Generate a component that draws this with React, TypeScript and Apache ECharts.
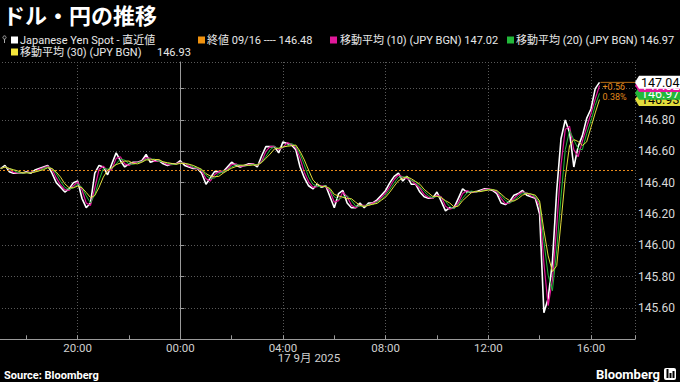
import React, { useEffect, useRef } from "react";
import * as echarts from "echarts";

// ---- data ----
const TITLE = "ドル・円の推移";
const START_MINUTE = -420; // 17:00 on 16 Sep (minutes from 00:00, 17 Sep)
const STEP_MINUTES = 10;
const PRICE = [
  146.49, 146.51, 146.47, 146.46, 146.46, 146.46, 146.47, 146.46, 146.48, 146.49,
  146.5, 146.51, 146.46, 146.4, 146.37, 146.34, 146.36, 146.4, 146.41, 146.3,
  146.24, 146.27, 146.46, 146.51, 146.5, 146.45, 146.52, 146.59, 146.54, 146.5,
  146.52, 146.53, 146.53, 146.54, 146.58, 146.53, 146.54, 146.54, 146.52, 146.51,
  146.52, 146.52, 146.54, 146.51, 146.5, 146.49, 146.49, 146.46, 146.39, 146.43,
  146.47, 146.47, 146.47, 146.5, 146.53, 146.51, 146.5, 146.51, 146.52, 146.52,
  146.5, 146.57, 146.63, 146.63, 146.63, 146.59, 146.66, 146.65, 146.64, 146.61,
  146.5, 146.43, 146.38, 146.36, 146.39, 146.37, 146.38, 146.31, 146.24, 146.33,
  146.35, 146.27, 146.24, 146.24, 146.27, 146.24, 146.27, 146.27, 146.29, 146.32,
  146.35, 146.4, 146.44, 146.46, 146.41, 146.44, 146.39, 146.39, 146.34, 146.31,
  146.3, 146.3, 146.34, 146.28, 146.22, 146.24, 146.24, 146.3, 146.36, 146.34,
  146.34, 146.34, 146.35, 146.36, 146.36, 146.35, 146.33, 146.27, 146.26, 146.28,
  146.32, 146.33, 146.35, 146.32, 146.31, 146.3, 146.2, 145.57, 145.66, 145.9,
  146.35, 146.68, 146.8, 146.72, 146.5, 146.63, 146.7, 146.81, 146.87, 147.0,
  147.04,
];
const PREV_CLOSE = 146.48;
const PREV_CLOSE_DATE = "09/16";
const MA_WINDOWS = [10, 20, 30]; // minutes
const MA_COLORS = ["#e0189a", "#22b83a", "#e2dc3c"];
const SERIES_NAME = "Japanese Yen Spot - 直近値";
const DATE_LABEL = "17 9月 2025";
const X_MIN = -480;
const X_MAX = 1063;
const X_INTERVAL = 240;
const Y_MIN = 145.4;
const Y_MAX = 147.17;
const Y_INTERVAL = 0.2;

const FONT = "Roboto, 'Noto Sans CJK JP', sans-serif";
const SHIFT = 25; // chart div starts 25px left of the page so that 16:00 sits off-screen

function movingAverage(values: number[], windowMinutes: number): number[] {
  const n = windowMinutes / STEP_MINUTES + 1;
  return values.map((_, i) => {
    const s = Math.max(0, i - n + 1);
    const part = values.slice(s, i + 1);
    return part.reduce((a, b) => a + b, 0) / part.length;
  });
}

function fmtTime(v: number): string {
  const m = ((v % 1440) + 1440) % 1440;
  const h = Math.floor(m / 60);
  const mm = Math.round(m % 60);
  return String(h).padStart(2, "0") + ":" + String(mm).padStart(2, "0");
}

export default function App() {
  const ref = useRef<HTMLDivElement>(null);
  useEffect(() => {
    if (!ref.current) return;
    const chart = echarts.init(ref.current, null, { renderer: "svg" });
    const xs = PRICE.map((_, i) => START_MINUTE + STEP_MINUTES * i);
    const mas = MA_WINDOWS.map((w) => movingAverage(PRICE, w));
    const toPairs = (arr: number[]) => arr.map((v, i) => [xs[i], v]);
    const last = PRICE[PRICE.length - 1];
    const lastMas = mas.map((m) => m[m.length - 1]);

    chart.setOption({
      animation: false,
      backgroundColor: "#000",
      grid: { left: 0, right: 45, top: 62, bottom: 42.7 },
      xAxis: {
        type: "value",
        min: X_MIN,
        max: X_MAX,
        interval: X_INTERVAL,
        axisLine: { show: true, lineStyle: { color: "#9a9a9a", width: 1 } },
        axisTick: { show: true, inside: true, length: 4, lineStyle: { color: "#9a9a9a" } },
        minorTick: { show: true, splitNumber: 2, length: 4, lineStyle: { color: "#9a9a9a" } },
        splitLine: { show: true, lineStyle: { color: "#5a5a5a", type: [1, 2], width: 1 } },
        axisLabel: {
          color: "#d0d0d0",
          fontSize: 11.5,
          fontFamily: FONT,
          margin: 3,
          showMinLabel: false,
          showMaxLabel: false,
          formatter: (v: number) => fmtTime(v),
        },
      },
      yAxis: {
        type: "value",
        position: "right",
        min: Y_MIN,
        max: Y_MAX,
        interval: Y_INTERVAL,
        axisLine: { show: true, lineStyle: { color: "#9a9a9a", width: 1 } },
        axisTick: { show: true, length: 4, lineStyle: { color: "#9a9a9a" } },
        splitLine: { show: true, lineStyle: { color: "#5a5a5a", type: [1, 2], width: 1 } },
        axisLabel: {
          color: "#d8d8d8",
          fontSize: 12,
          fontFamily: FONT,
          margin: 3,
          showMaxLabel: false,
          formatter: (v: number) => {
            const r = Math.round(v * 100) / 100;
            if (Math.abs(r - Y_MIN) < 1e-6 || r > 146.99) return "";
            return r.toFixed(2);
          },
        },
      },
      series: [
        {
          name: SERIES_NAME,
          type: "line",
          data: toPairs(PRICE),
          showSymbol: false,
          lineStyle: { color: "#ffffff", width: 1.6 },
          z: 2,
          markLine: {
            silent: true,
            symbol: "none",
            label: { show: false },
            lineStyle: { color: "#e8891a", type: [2, 2], width: 1 },
            data: [{ yAxis: PREV_CLOSE }],
          },
        },
        ...mas.map((m, k) => ({
          name: "MA" + MA_WINDOWS[k],
          type: "line",
          data: toPairs(m),
          showSymbol: false,
          lineStyle: { color: MA_COLORS[k], width: k === 0 ? 1.2 : 1 },
          z: 3 + k,
        })),
      ],
    });

    const graphics: any[] = [];
    const text = (x: number, y: number, t: string, opts: any = {}) =>
      graphics.push({
        type: "text",
        x,
        y,
        silent: true,
        z: 100,
        style: {
          text: t,
          fill: opts.fill || "#e8e8e8",
          fontSize: opts.fontSize || 11,
          fontFamily: FONT,
          fontWeight: opts.fontWeight || "normal",
          align: opts.align || "left",
          verticalAlign: "middle",
        },
      });
    const square = (x: number, y: number, color: string) =>
      graphics.push({ type: "rect", silent: true, z: 100, shape: { x, y: y - 3.5, width: 7, height: 7 }, style: { fill: color } });

    // title
    text(3, 16, TITLE, { fontSize: 22, fontWeight: "bold", fill: "#ffffff" });

    // legend row 1
    graphics.push({ type: "circle", silent: true, z: 100, shape: { cx: 4.5, cy: 37.5, r: 1.6 }, style: { stroke: "#aaa", fill: "none", lineWidth: 1 } });
    graphics.push({ type: "line", silent: true, z: 100, shape: { x1: 4.5, y1: 39, x2: 4.5, y2: 43 }, style: { stroke: "#aaa", lineWidth: 1 } });
    square(11, 40, "#ffffff");
    text(20, 40, SERIES_NAME);
    square(198, 40, "#f0920f");
    text(207, 40, "終値 " + PREV_CLOSE_DATE + " ---- " + PREV_CLOSE.toFixed(2));
    square(330, 40, MA_COLORS[0]);
    text(340, 40, "移動平均 (" + MA_WINDOWS[0] + ") (JPY BGN) " + lastMas[0].toFixed(2));
    square(507, 40, MA_COLORS[1]);
    text(516, 40, "移動平均 (" + MA_WINDOWS[1] + ") (JPY BGN) " + lastMas[1].toFixed(2));
    // legend row 2
    square(11, 52, "#f5e63c");
    text(20, 52, "移動平均 (" + MA_WINDOWS[2] + ") (JPY BGN)");
    text(157, 52, lastMas[2].toFixed(2));

    // date label & footer
    text(309, 358, DATE_LABEL, { align: "center", fontSize: 11.5, fill: "#d0d0d0" });
    text(4, 375, "Source: Bloomberg", { fontWeight: "bold", fontSize: 11, fill: "#ffffff" });
    text(660, 374, "Bloomberg", { fontWeight: "bold", fontSize: 13, fill: "#ffffff", align: "right" });
    graphics.push({ type: "rect", silent: true, z: 100, shape: { x: 664, y: 368, width: 12, height: 12, r: 2 }, style: { fill: "#ffffff" } });
    [[666.5, 9], [669.5, 5], [672.5, 7]].forEach(([bx, h]) =>
      graphics.push({ type: "rect", silent: true, z: 101, shape: { x: bx, y: 378 - h, width: 2, height: h }, style: { fill: "#000" } })
    );

    // value boxes on the right axis
    const xRight = 635;
    const boxes = [
      { v: lastMas[2], bg: MA_COLORS[2], fg: "#000" },
      { v: lastMas[1], bg: MA_COLORS[1], fg: "#fff" },
      { v: lastMas[0], bg: MA_COLORS[0], fg: "#fff" },
      { v: last, bg: "#ffffff", fg: "#000" },
    ];
    boxes.forEach((b, k) => {
      const y = chart.convertToPixel({ yAxisIndex: 0 } as any, b.v) as number;
      graphics.push({
        type: "polygon",
        silent: true,
        z: 110 + k * 2,
        shape: { points: [[xRight, y], [xRight + 4, y - 6.5], [681, y - 6.5], [681, y + 6.5], [xRight + 4, y + 6.5]] },
        style: { fill: b.bg },
      });
      graphics.push({
        type: "text",
        x: 641,
        y,
        silent: true,
        z: 111 + k * 2,
        style: { text: b.v.toFixed(2), fill: b.fg, fontSize: 12.5, fontFamily: FONT, verticalAlign: "middle", align: "left" },
      });
    });

    // change annotation
    const lastPt = chart.convertToPixel({ gridIndex: 0 } as any, [xs[xs.length - 1], last]) as number[];
    const lx = lastPt[0] - SHIFT;
    const chg = last - PREV_CLOSE;
    const pct = (chg / PREV_CLOSE) * 100;
    graphics.push({ type: "line", silent: true, z: 90, shape: { x1: lx + 1, y1: lastPt[1], x2: xRight, y2: lastPt[1] }, style: { stroke: "#b56c14", lineWidth: 1 } });
    text(lx + 3, lastPt[1] + 5, "+" + chg.toFixed(2), { fill: "#e0891c", fontSize: 9 });
    text(lx + 3, lastPt[1] + 14.5, pct.toFixed(2) + "%", { fill: "#e0891c", fontSize: 9 });

    chart.setOption({ graphic: [{ type: "group", x: SHIFT, y: 0, children: graphics }] });
    return () => chart.dispose();
  }, []);
  return (
    <div
      ref={ref}
      style={{ position: "fixed", left: -SHIFT, top: 0, width: 680 + SHIFT, height: 382, background: "#000" }}
    />
  );
}
